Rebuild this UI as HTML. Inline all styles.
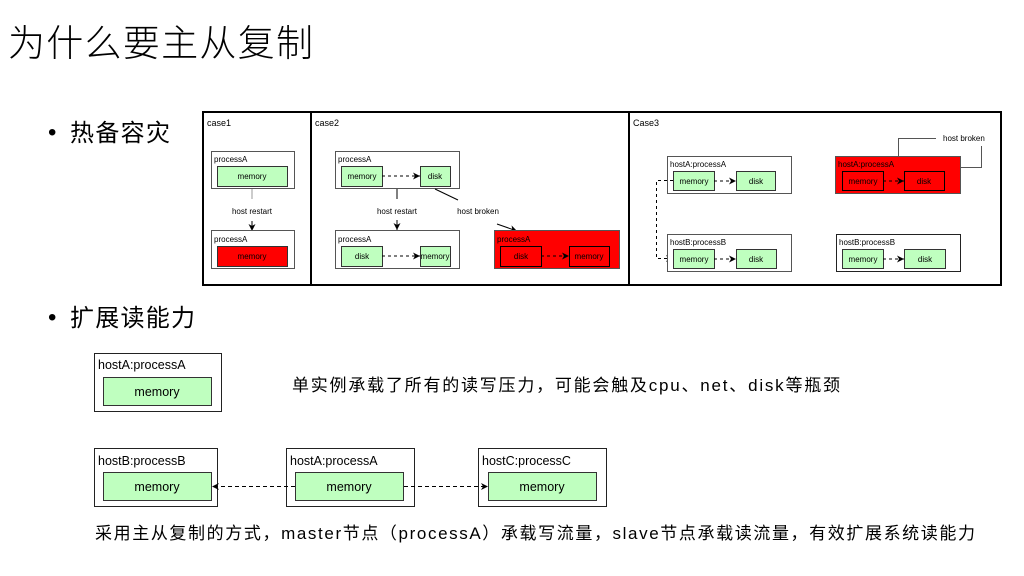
<!DOCTYPE html>
<html><head><meta charset="utf-8"><style>
html,body{margin:0;padding:0;background:#fff;}
svg{display:block;}
text{font-family:"Liberation Sans","Noto Sans CJK SC",sans-serif;fill:#000;}
</style></head><body>
<svg width="1024" height="576" viewBox="0 0 1024 576" xmlns="http://www.w3.org/2000/svg">
<defs>
<marker id="ah" markerWidth="8" markerHeight="8" refX="7" refY="4" orient="auto" markerUnits="userSpaceOnUse">
<path d="M0,0.5 L7,4 L0,7.5 L2,4 Z" fill="#000"/></marker>
</defs>
<text x="8" y="56" font-size="37" textLength="305" style="font-weight:300">为什么要主从复制</text>
<text x="48" y="140" font-size="24">•</text>
<text x="70" y="141" font-size="24" textLength="100">热备容灾</text>
<text x="48" y="325" font-size="24">•</text>
<text x="70" y="326" font-size="24" textLength="125">扩展读能力</text>

<!-- outer diagram -->
<rect x="203" y="112" width="798" height="173" fill="#fff" stroke="#000" stroke-width="2"/>
<line x1="311" y1="112" x2="311" y2="285" stroke="#000" stroke-width="2"/>
<line x1="629" y1="112" x2="629" y2="285" stroke="#000" stroke-width="2"/>
<g font-size="9">
<text x="207" y="126">case1</text>
<text x="315" y="126">case2</text>
<text x="633" y="126">Case3</text>
</g>
<g font-size="8" stroke-width="1">
<!-- case1 -->
<rect x="211.5" y="151.5" width="83" height="37" fill="#fff" stroke="#555"/>
<text x="214" y="162">processA</text>
<rect x="217.5" y="166.5" width="70" height="20" fill="#bfffbf" stroke="#333"/>
<text x="252" y="179" text-anchor="middle">memory</text>
<line x1="252" y1="189" x2="252" y2="199" stroke="#999"/>
<text x="252" y="214" text-anchor="middle">host restart</text>
<line x1="252" y1="221" x2="252" y2="231" stroke="#000" marker-end="url(#ah)"/>
<rect x="211.5" y="230.5" width="83" height="38" fill="#fff" stroke="#555"/>
<text x="214" y="242">processA</text>
<rect x="217.5" y="246.5" width="70" height="20" fill="#f00" stroke="#333"/>
<text x="252" y="259" text-anchor="middle">memory</text>

<!-- case2 -->
<rect x="335.5" y="151.5" width="124" height="37" fill="#fff" stroke="#555"/>
<text x="338" y="162">processA</text>
<rect x="341.5" y="166.5" width="41" height="20" fill="#bfffbf" stroke="#333"/>
<text x="362" y="179" text-anchor="middle">memory</text>
<rect x="420.5" y="166.5" width="30" height="20" fill="#bfffbf" stroke="#333"/>
<text x="435" y="179" text-anchor="middle">disk</text>
<line x1="382" y1="176" x2="420" y2="176" stroke="#000" stroke-dasharray="3,3" marker-end="url(#ah)"/>
<line x1="397" y1="189" x2="397" y2="199" stroke="#000"/>
<text x="397" y="214" text-anchor="middle">host restart</text>
<line x1="397" y1="220" x2="397" y2="230" stroke="#000" marker-end="url(#ah)"/>
<line x1="435" y1="189" x2="458" y2="200" stroke="#000"/>
<text x="478" y="214" text-anchor="middle">host broken</text>
<line x1="497" y1="224" x2="517" y2="231" stroke="#000" marker-end="url(#ah)"/>
<rect x="335.5" y="230.5" width="124" height="38" fill="#fff" stroke="#555"/>
<text x="338" y="242">processA</text>
<rect x="341.5" y="246.5" width="41" height="20" fill="#bfffbf" stroke="#333"/>
<text x="362" y="259" text-anchor="middle">disk</text>
<rect x="420.5" y="246.5" width="30" height="20" fill="#bfffbf" stroke="#333"/>
<text x="435" y="259" text-anchor="middle">memory</text>
<line x1="382" y1="256" x2="420" y2="256" stroke="#000" stroke-dasharray="3,3" marker-end="url(#ah)"/>
<rect x="494.5" y="230.5" width="125" height="38" fill="#f00" stroke="#555"/>
<text x="497" y="242">processA</text>
<rect x="500.5" y="246.5" width="41" height="20" fill="#f00" stroke="#000"/>
<text x="521" y="259" text-anchor="middle">disk</text>
<rect x="569.5" y="246.5" width="40" height="20" fill="#f00" stroke="#000"/>
<text x="589" y="259" text-anchor="middle">memory</text>
<line x1="541" y1="256" x2="569" y2="256" stroke="#000" stroke-dasharray="3,3" marker-end="url(#ah)"/>

<!-- case3 -->
<rect x="667.5" y="156.5" width="124" height="37" fill="#fff" stroke="#555"/>
<text x="670" y="167">hostA:processA</text>
<rect x="673.5" y="171.5" width="41" height="19" fill="#bfffbf" stroke="#333"/>
<text x="694" y="184" text-anchor="middle">memory</text>
<rect x="736.5" y="171.5" width="39" height="19" fill="#bfffbf" stroke="#333"/>
<text x="756" y="184" text-anchor="middle">disk</text>
<line x1="714" y1="181" x2="736" y2="181" stroke="#000" stroke-dasharray="3,3" marker-end="url(#ah)"/>
<polyline points="673,180.5 656.5,180.5 656.5,258.5 673,258.5" fill="none" stroke="#000" stroke-dasharray="3,3" marker-end="url(#ah)"/>
<rect x="667.5" y="234.5" width="124" height="37" fill="#fff" stroke="#555"/>
<text x="670" y="245">hostB:processB</text>
<rect x="673.5" y="249.5" width="41" height="19" fill="#bfffbf" stroke="#333"/>
<text x="694" y="262" text-anchor="middle">memory</text>
<rect x="736.5" y="249.5" width="40" height="19" fill="#bfffbf" stroke="#333"/>
<text x="756" y="262" text-anchor="middle">disk</text>
<line x1="714" y1="259" x2="736" y2="259" stroke="#000" stroke-dasharray="3,3" marker-end="url(#ah)"/>

<polyline points="898.5,156 898.5,138.5 936,138.5" fill="none" stroke="#555"/>
<polyline points="981.5,146 981.5,167.5 960,167.5" fill="none" stroke="#555"/>
<text x="943" y="141">host broken</text>
<rect x="835.5" y="156.5" width="125" height="37" fill="#f00" stroke="#555"/>
<text x="838" y="167">hostA:processA</text>
<rect x="842.5" y="171.5" width="41" height="19" fill="#f00" stroke="#000"/>
<text x="863" y="184" text-anchor="middle">memory</text>
<rect x="904.5" y="171.5" width="40" height="19" fill="#f00" stroke="#000"/>
<text x="924" y="184" text-anchor="middle">disk</text>
<line x1="883" y1="181" x2="904" y2="181" stroke="#000" stroke-dasharray="3,3" marker-end="url(#ah)"/>
<rect x="836.5" y="234.5" width="124" height="37" fill="#fff" stroke="#222"/>
<text x="839" y="245">hostB:processB</text>
<rect x="842.5" y="249.5" width="41" height="19" fill="#bfffbf" stroke="#333"/>
<text x="863" y="262" text-anchor="middle">memory</text>
<rect x="904.5" y="249.5" width="41" height="19" fill="#bfffbf" stroke="#333"/>
<text x="925" y="262" text-anchor="middle">disk</text>
<line x1="883" y1="259" x2="904" y2="259" stroke="#000" stroke-dasharray="3,3" marker-end="url(#ah)"/>
</g>

<!-- bottom -->
<g font-size="12.5">
<rect x="94.5" y="353.5" width="127" height="58" fill="#fff" stroke="#222"/>
<text x="98" y="369">hostA:processA</text>
<rect x="103.5" y="377.5" width="108" height="28" fill="#bfffbf" stroke="#333"/>
<text x="157" y="396" text-anchor="middle">memory</text>

<rect x="94.5" y="448.5" width="123" height="58" fill="#fff" stroke="#222"/>
<text x="98" y="465">hostB:processB</text>
<rect x="103.5" y="472.5" width="108" height="28" fill="#bfffbf" stroke="#333"/>
<text x="157" y="491" text-anchor="middle">memory</text>

<rect x="286.5" y="448.5" width="128" height="58" fill="#fff" stroke="#222"/>
<text x="290" y="465">hostA:processA</text>
<rect x="295.5" y="472.5" width="108" height="28" fill="#bfffbf" stroke="#333"/>
<text x="349" y="491" text-anchor="middle">memory</text>

<rect x="478.5" y="448.5" width="128" height="58" fill="#fff" stroke="#222"/>
<text x="482" y="465">hostC:processC</text>
<rect x="488.5" y="472.5" width="108" height="28" fill="#bfffbf" stroke="#333"/>
<text x="542" y="491" text-anchor="middle">memory</text>

<line x1="295" y1="486.5" x2="212" y2="486.5" stroke="#000" stroke-dasharray="4,3" marker-end="url(#ah)"/>
<line x1="404" y1="486.5" x2="488" y2="486.5" stroke="#000" stroke-dasharray="4,3" marker-end="url(#ah)"/>
</g>
<text x="292" y="391" font-size="17" textLength="548">单实例承载了所有的读写压力，可能会触及cpu、net、disk等瓶颈</text>
<text x="95" y="539" font-size="17" textLength="880">采用主从复制的方式，master节点（processA）承载写流量，slave节点承载读流量，有效扩展系统读能力</text>
</svg>
</body></html>
